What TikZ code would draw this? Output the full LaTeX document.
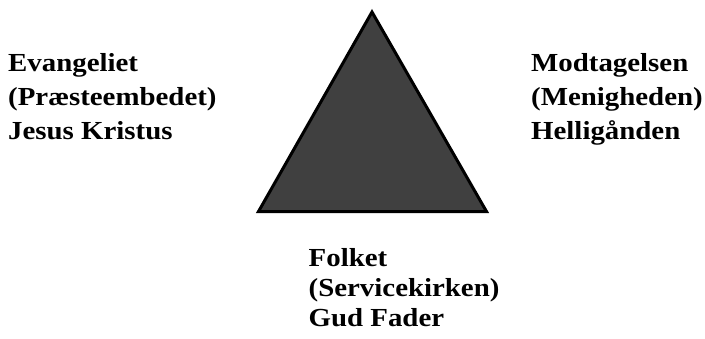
\documentclass[tikz,border=0pt]{standalone}
\usepackage{fontspec}
\setmainfont[FakeStretch=1.11]{Liberation Serif}
\tikzset{
  lbl/.style={anchor=base west, align=left, inner sep=0pt, font=\fontsize{26}{34}\selectfont\bfseries},
  lblb/.style={lbl, font=\fontsize{26}{30}\selectfont\bfseries},
  tri/.style={draw=black, line width=3pt, fill=black!75, line join=miter}
}
\begin{document}
\begin{tikzpicture}[x=1pt,y=-1pt]
\useasboundingbox (0,0) rectangle (705,338);
\coordinate (apex) at (372,12);
\coordinate (bl) at (258.5,211.5);
\coordinate (br) at (486.5,211.5);
\path[tri] (apex) -- (br) -- (bl) -- cycle;
\node[lbl] (left) at (8,139) {Evangeliet\\(Præsteembedet)\\Jesus Kristus};
\node[lbl] (right) at (531,139) {Modtagelsen\\(Menigheden)\\Helligånden};
\node[lblb] (bottom) at (308.5,326) {Folket\\(Servicekirken)\\Gud Fader};
\end{tikzpicture}
\end{document}
